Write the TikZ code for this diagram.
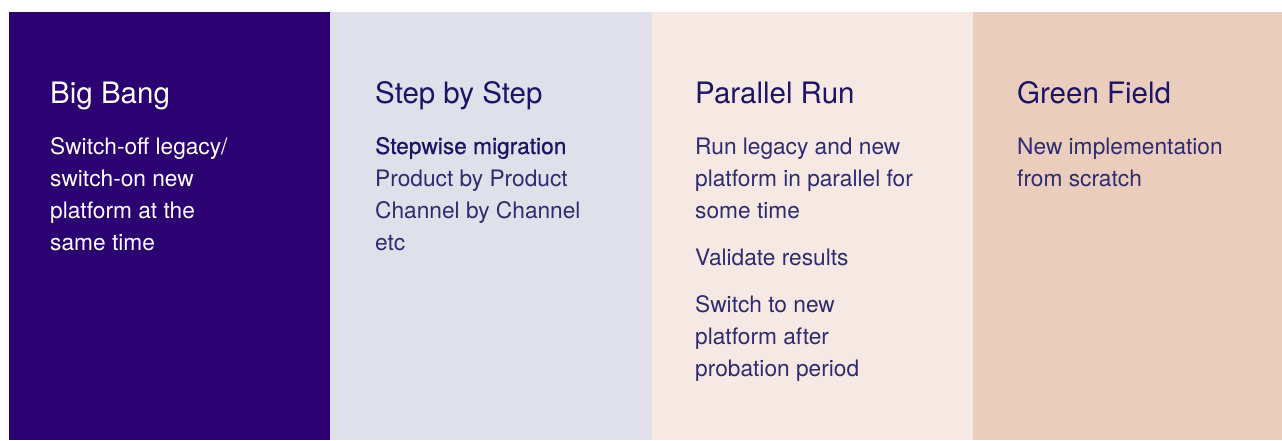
\documentclass[tikz,border=0pt]{standalone}
\usepackage{fontspec}
\setmainfont{TeX Gyre Heros}
\newfontfamily\medfont[FakeBold=0.6]{TeX Gyre Heros}
\usepackage{xcolor}
\usepackage{tikz}

\definecolor{bangpurple}{HTML}{2B0070}
\definecolor{steplav}{HTML}{E0E0EB}
\definecolor{runpink}{HTML}{F6E9E4}
\definecolor{fieldpeach}{HTML}{EBCDBD}
\definecolor{headnavy}{HTML}{1C1466}
\definecolor{textnavy}{HTML}{2E2B70}

\begin{document}
\begin{tikzpicture}[x=1pt,y=-1pt,
    head/.style={anchor=base west,inner sep=0pt,text=headnavy,font=\fontsize{29.5}{34}\selectfont},
    body/.style={anchor=base west,inner sep=0pt,align=left,text=textnavy,font=\fontsize{22.7}{32}\selectfont}]
                \useasboundingbox (0,0) rectangle (1282,440);
                % panels
                \fill [bangpurple](9,12) rectangle (330,440);
                \fill [steplav](330,12) rectangle (652,440);
                \fill [runpink](652,12) rectangle (973,440);
                \fill [fieldpeach](973,12) rectangle (1282,440);
                % body nodes sit on the baseline of their last line
                % Big Bang
                \node [head,text=white] (bang) at (50,103) {Big Bang};
                \node [body,text=white] (bangtxt) at (50,250) {Switch-off legacy/\\switch-on new\\platform at the\\same time};
                % Step by Step
                \node [head] (step) at (375,103) {Step by Step};
                \node [body,text=headnavy] (stepmig) at (375,154) {\medfont Stepwise migration};
                \node [body] (steptxt) at (375,250) {Product by Product\\Channel by Channel\\etc};
                % Parallel Run
                \node [head] (run) at (695,103) {Parallel Run};
                \node [body] (runa) at (695,218) {Run legacy and new\\platform in parallel for\\some time};
                \node [body] (runb) at (695,265) {Validate results};
                \node [body] (runc) at (695,376) {Switch to new\\platform after\\probation period};
                % Green Field
                \node [head] (field) at (1017,103) {Green Field};
                \node [body] (fieldtxt) at (1017,186) {New implementation\\from scratch};
            \end{tikzpicture}
\end{document}
